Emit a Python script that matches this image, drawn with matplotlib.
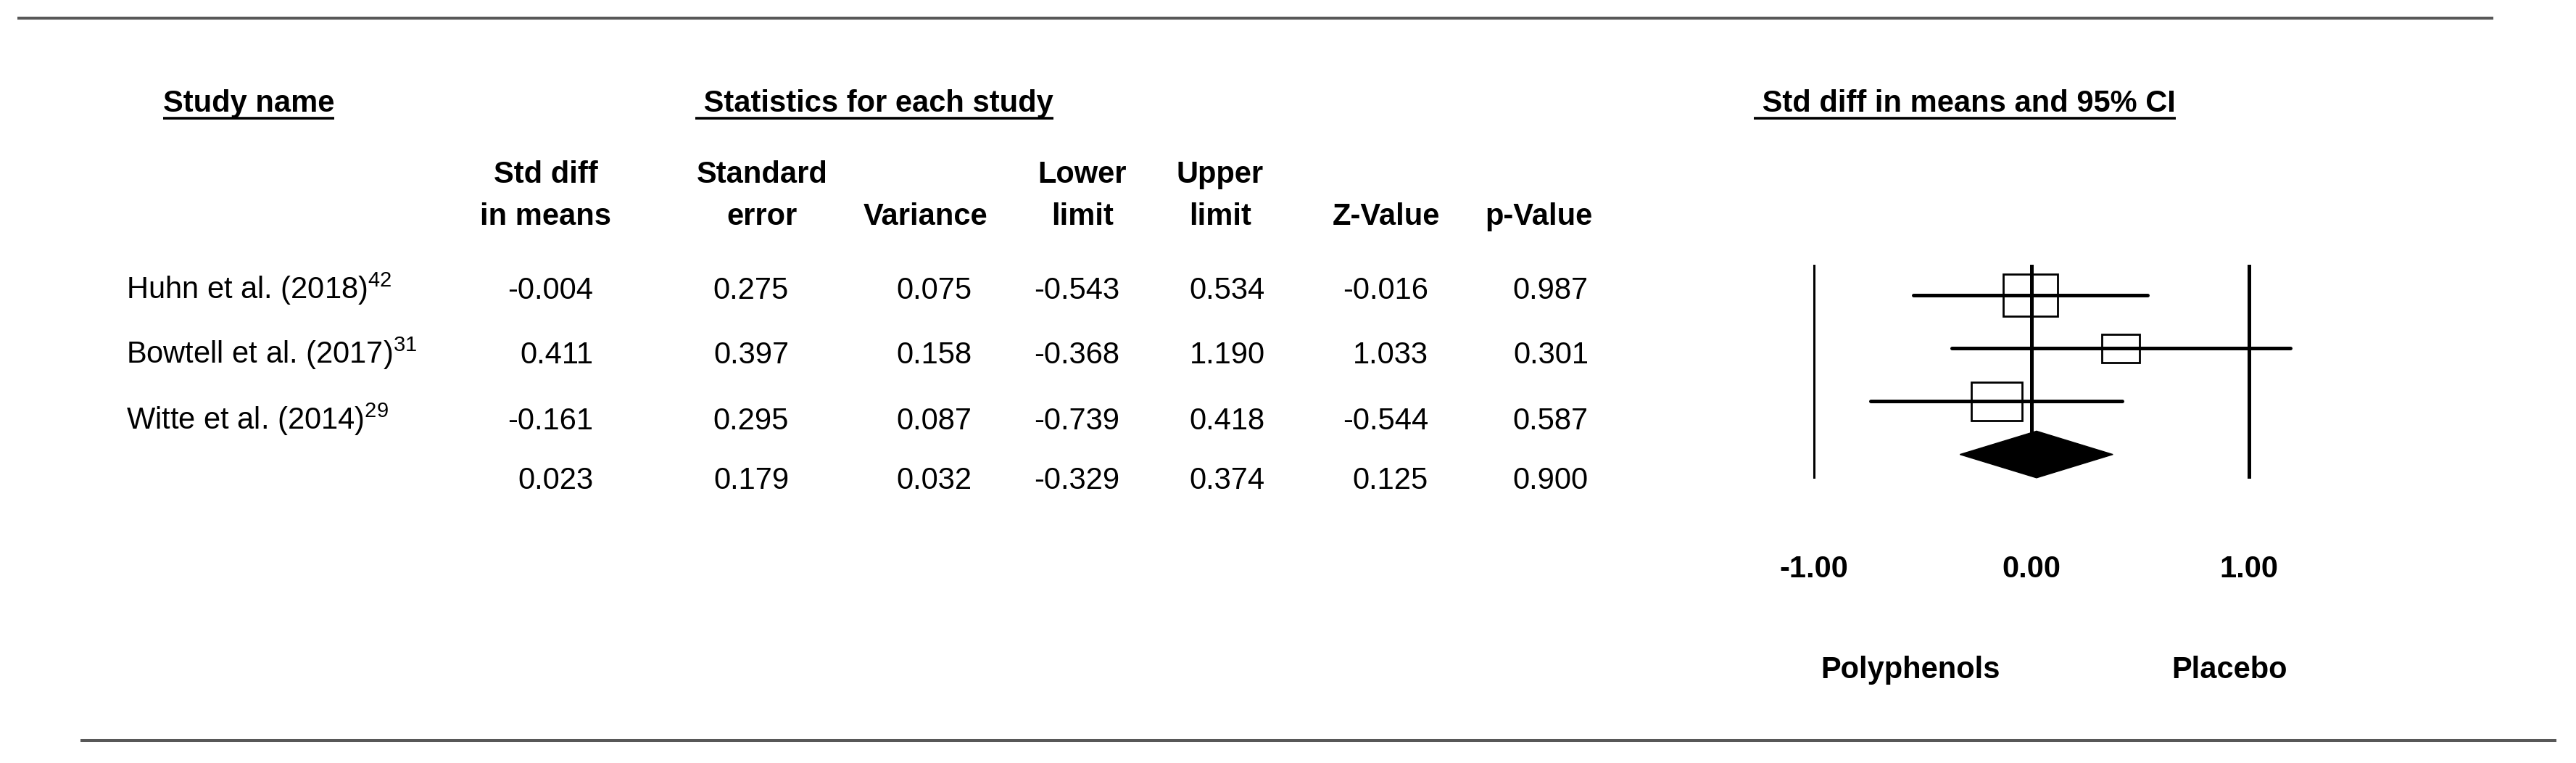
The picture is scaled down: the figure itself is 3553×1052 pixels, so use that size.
"""Forest plot: polyphenols vs placebo, standardised mean difference (3 studies)."""
import matplotlib
matplotlib.use("Agg")
import matplotlib.pyplot as plt
import numpy as np
from matplotlib import font_manager
from matplotlib.patches import Polygon, Rectangle
from matplotlib.transforms import blended_transform_factory

# --- data (last entry of each stats list is the pooled estimate) ---
STUDIES = ["Huhn et al. (2018)", "Bowtell et al. (2017)", "Witte et al. (2014)"]
REFS = ["42", "31", "29"]
STD_DIFF = [-0.004, 0.411, -0.161, 0.023]
STD_ERR = [0.275, 0.397, 0.295, 0.179]
VARIANCE = [0.075, 0.158, 0.087, 0.032]
LOWER = [-0.543, -0.368, -0.739, -0.329]
UPPER = [0.534, 1.190, 0.418, 0.374]
Z_VALUE = [-0.016, 1.033, -0.544, 0.125]
P_VALUE = [0.987, 0.301, 0.587, 0.900]
HEADERS = [("Std diff", "in means"), ("Standard", "error"), ("", "Variance"),
           ("Lower", "limit"), ("Upper", "limit"), ("", "Z-Value"), ("", "p-Value")]
TICKS = [-1.0, 0.0, 1.0]
FAVOURS = ["Polyphenols", "Placebo"]

# --- layout (pixels, measured from the top-left) ---
W, H, DPI = 3553, 1052, 100
NAME_X = 174
ROW_BASE = [412, 501, 592, 674]
VALUE_RIGHT = [818, 1088, 1340, 1544, 1745, 1970, 2191]
HEADER_X = [753, 1051, 1277, 1493, 1683, 1912, 2122]
HEADER_BASE = (252, 310)
TITLE_BASE = 154
ZERO_PX, UNIT_PX = 2802, 300
ROW0_PX, ROW_PX = 407, 73.2
PLOT_TOP, PLOT_BOTTOM = 365, 660
XLIM = (-1.2, 1.4)

_installed = {f.name for f in font_manager.fontManager.ttflist}
if "Liberation Sans Narrow" in _installed:
    FAMILY, FS = "Liberation Sans Narrow", 35
else:
    FAMILY, FS = "Liberation Sans", 30

plt.rcParams.update({
    "font.family": [FAMILY, "DejaVu Sans"],
    "font.size": FS,
    "mathtext.fontset": "custom",
    "mathtext.rm": FAMILY,
    "mathtext.it": FAMILY + ":italic",
    "mathtext.bf": FAMILY + ":bold",
})

fig = plt.figure(figsize=(W / DPI, H / DPI), dpi=DPI)
bg = fig.add_axes([0, 0, 1, 1])
bg.set_xlim(0, W)
bg.set_ylim(H, 0)
bg.axis("off")

# rules above and below the figure
rule = dict(color="#585858", lw=2.9, solid_capstyle="butt")
bg.plot([24, 3439], [25, 25], **rule)
bg.plot([111, 3526], [1021, 1021], **rule)

titles = [
    bg.text(225, TITLE_BASE, "Study name", fontweight="bold", va="baseline"),
    bg.text(959, TITLE_BASE, " Statistics for each study", fontweight="bold", va="baseline"),
    bg.text(2419, TITLE_BASE, " Std diff in means and 95% CI", fontweight="bold", va="baseline"),
]

for (top, bottom), x in zip(HEADERS, HEADER_X):
    if top:
        bg.text(x, HEADER_BASE[0], top, fontweight="bold", ha="center", va="baseline")
    bg.text(x, HEADER_BASE[1], bottom, fontweight="bold", ha="center", va="baseline")

for name, ref, y in zip(STUDIES, REFS, ROW_BASE):
    bg.text(NAME_X, y, f"{name}$^{{{ref}}}$", va="baseline")

columns = [STD_DIFF, STD_ERR, VARIANCE, LOWER, UPPER, Z_VALUE, P_VALUE]
for col, x in zip(columns, VALUE_RIGHT):
    for val, y in zip(col, ROW_BASE):
        bg.text(x, y, f"{val:.3f}", ha="right", va="baseline")

# --- forest panel ---
ax = fig.add_axes([
    (ZERO_PX + XLIM[0] * UNIT_PX) / W,
    1 - PLOT_BOTTOM / H,
    (XLIM[1] - XLIM[0]) * UNIT_PX / W,
    (PLOT_BOTTOM - PLOT_TOP) / H,
])
ax.set_xlim(XLIM)
ax.set_ylim((PLOT_BOTTOM - ROW0_PX) / ROW_PX, (PLOT_TOP - ROW0_PX) / ROW_PX)
ax.axis("off")

n = len(STUDIES)
rows = np.arange(n)
est = np.array(STD_DIFF[:n])
var = np.array(VARIANCE[:n])
# box area proportional to inverse-variance weight
box_w = 0.0685 * np.sqrt(1 / var)
box_h = box_w * UNIT_PX * 0.76 / ROW_PX

for r, lo, hi in zip(rows, LOWER[:n], UPPER[:n]):
    ax.plot([lo, hi], [r, r], color="black", lw=3.6, solid_capstyle="round")
for r, e, bw, bh in zip(rows, est, box_w, box_h):
    ax.add_patch(Rectangle((e - bw / 2, r - bh / 2), bw, bh, fill=False,
                           edgecolor="black", lw=2.0))

dh = 0.44
ax.add_patch(Polygon([(LOWER[n], n), (STD_DIFF[n], n - dh), (UPPER[n], n),
                      (STD_DIFF[n], n + dh)], closed=True, color="black"))

ytop = ax.get_ylim()[1]
ax.axvline(TICKS[0], color="black", lw=2.2)
ax.axvline(TICKS[2], color="black", lw=3.6)
ax.plot([TICKS[1], TICKS[1]], [ytop, n - dh], color="black", lw=3.6)

tick_tr = blended_transform_factory(ax.transData, bg.transData)
for t in TICKS:
    ax.text(t, 796, f"{t:.2f}", transform=tick_tr, ha="center", va="baseline",
            fontweight="bold")

bg.text(2635, 935, FAVOURS[0], ha="center", va="baseline", fontweight="bold")
bg.text(3075, 935, FAVOURS[1], ha="center", va="baseline", fontweight="bold")

# underline the three section titles
fig.canvas.draw()
renderer = fig.canvas.get_renderer()
for t in titles:
    bb = t.get_window_extent(renderer)
    bg.plot([bb.x0, bb.x1], [TITLE_BASE + 9, TITLE_BASE + 9], color="black",
            lw=2.6, solid_capstyle="butt")

fig.savefig("out.png", dpi=DPI)
